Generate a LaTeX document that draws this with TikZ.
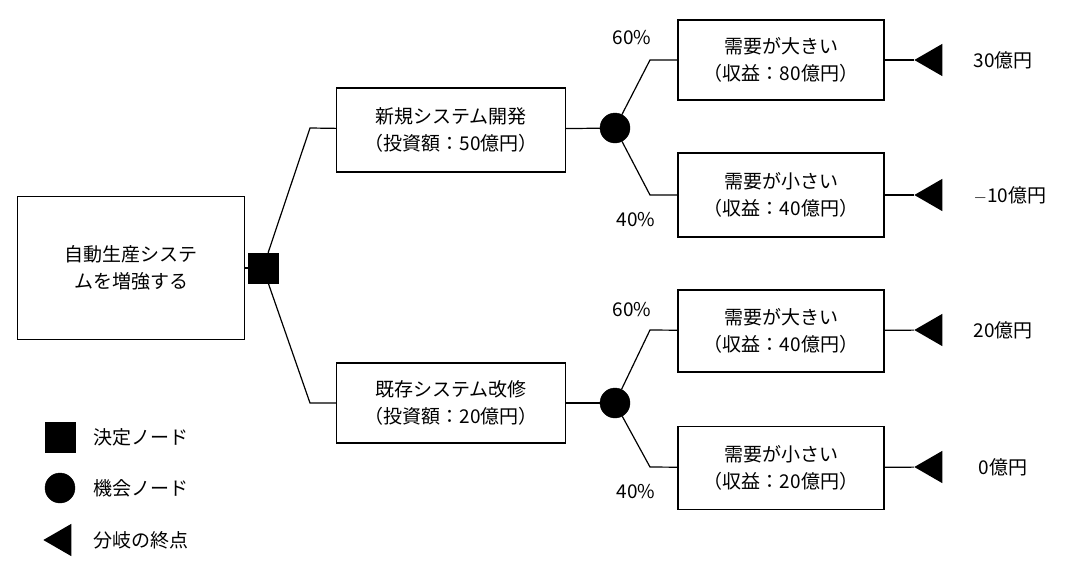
\documentclass[tikz,border=0pt]{standalone}
\usepackage{fontspec}
\setmainfont{Noto Sans CJK JP}
\usepackage{tikz}
\usetikzlibrary{shapes.geometric}
\tikzset{
  box/.style={draw,line width=1.2pt,align=center,inner sep=0pt,font=\fontsize{19}{27}\selectfont},
  dec/.style={draw,fill=black,minimum size=30pt,inner sep=0pt},
  chance/.style={circle,draw,fill=black,minimum size=30pt,inner sep=0pt},
  term/.style={fill=black,isosceles triangle,isosceles triangle apex angle=60,shape border rotate=180,minimum height=28pt,inner sep=0pt},
  lbl/.style={font=\fontsize{19}{23}\selectfont},
  br/.style={line width=1.2pt}
}
\begin{document}
\begin{tikzpicture}[x=1pt,y=-1pt]
\useasboundingbox (0,0) rectangle (1080,576);
\draw (131,268) node[box,minimum width=227pt,minimum height=143pt] (A) {自動生産システ\\ムを増強する};
\draw (263,268) node[dec] (D) {};
\draw (451,130) node[box,minimum width=229pt,minimum height=84pt] (B1) {新規システム開発\\（投資額：50億円）};
\draw (451,403) node[box,minimum width=229pt,minimum height=80pt] (B2) {既存システム改修\\（投資額：20億円）};
\draw (615,128) node[chance] (C1) {};
\draw (615,403) node[chance] (C2) {};
\draw (781,60) node[box,minimum width=206pt,minimum height=80pt] (R1) {需要が大きい\\（収益：80億円）};
\draw (781,195) node[box,minimum width=206pt,minimum height=84pt] (R2) {需要が小さい\\（収益：40億円）};
\draw (781,331) node[box,minimum width=206pt,minimum height=82pt] (R3) {需要が大きい\\（収益：40億円）};
\draw (781,468) node[box,minimum width=206pt,minimum height=83pt] (R4) {需要が小さい\\（収益：20億円）};
\draw (933,60) node[term] (T1) {};
\draw (933,195) node[term] (T2) {};
\draw (933,330) node[term] (T3) {};
\draw (933,467) node[term] (T4) {};
\draw (1003,60) node[lbl] (V1) {30億円};
\draw (1010,195) node[lbl] (V2) {$-$10億円};
\draw (1003,330) node[lbl] (V3) {20億円};
\draw (1003,467) node[lbl] (V4) {0億円};
\draw (632,38) node[lbl] (P1) {60\%};
\draw (636,220) node[lbl] (P2) {40\%};
\draw (632,310) node[lbl] (P3) {60\%};
\draw (636,492) node[lbl] (P4) {40\%};

\draw[br] (A) -- (D);
\draw[br] (D) -- (310,128) -- (B1);
\draw[br] (D) -- (310,403) -- (B2);
\draw[br] (B1) -- (C1);
\draw[br] (B2) -- (C2);
\draw[br] (C1) -- (650,60) -- (R1);
\draw[br] (C1) -- (650,195) -- (R2);
\draw[br] (C2) -- (650,330) -- (R3);
\draw[br] (C2) -- (650,467) -- (R4);
\draw[br] (R1) -- (T1);
\draw[br] (R2) -- (T2);
\draw[br] (R3) -- (T3);
\draw[br] (R4) -- (T4);

% legend
\draw (60,437) node[dec] (L1) {};
\draw (60,488) node[chance] (L2) {};
\draw (62,540) node[term] (L3) {};
\draw (90,437) node[lbl,anchor=west] {決定ノード};
\draw (90,488) node[lbl,anchor=west] {機会ノード};
\draw (90,540) node[lbl,anchor=west] {分岐の終点};
\end{tikzpicture}
\end{document}
